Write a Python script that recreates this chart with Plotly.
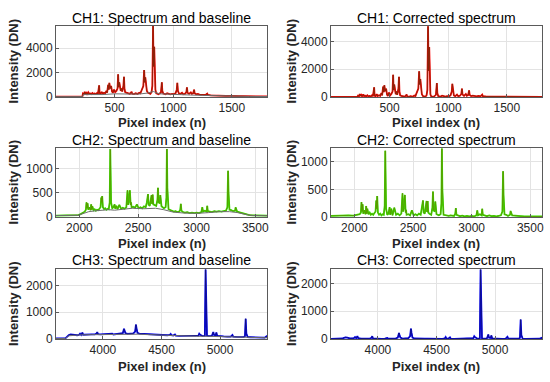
import plotly.graph_objects as go

# ---------------- DATA ----------------
# CH1 raw spectrum (pixel, DN)
ch1_spectrum = [(0,20),(100,20),(200,25),(225,30),(230,300),(240,250),(245,420),(250,260),(258,350),(265,240),
 (275,380),(282,250),(290,300),(300,230),(310,320),(318,250),(330,280),(340,240),(350,330),(358,260),
 (368,950),(372,300),(380,260),(390,420),(398,280),(410,350),(420,300),(430,500),(436,350),(445,1000),
 (450,600),(455,1150),(462,700),(470,900),(478,450),(485,350),(495,600),(505,400),(515,500),(525,700),
 (530,1850),(534,800),(540,1200),(545,600),(552,500),(560,700),(565,450),(575,900),(580,1650),(584,700),
 (590,400),(600,350),(615,300),(630,250),(645,420),(650,260),(665,230),(680,300),(695,250),(710,350),
 (720,300),(735,600),(745,900),(752,2200),(757,1200),(762,1600),(768,800),(775,500),(785,350),(795,300),
 (805,250),(815,400),(822,900),(828,5800),(832,2500),(838,4100),(842,1500),(848,600),(855,300),(865,250),
 (875,230),(885,300),(895,350),(903,1200),(907,500),(915,280),(925,250),(935,220),(948,300),(960,240),
 (975,220),(990,250),(1005,230),(1020,300),(1030,600),(1035,1150),(1040,500),(1048,300),(1060,250),(1075,350),
 (1085,230),(1100,260),(1112,400),(1117,780),(1122,350),(1135,250),(1150,380),(1158,250),(1170,300),(1178,600),
 (1183,300),(1195,220),(1210,250),(1225,200),(1240,180),(1260,200),(1275,170),(1290,280),(1295,170),(1320,140),
 (1350,120),(1380,110),(1400,130),(1420,100),(1450,90),(1480,100),(1500,80),(1520,90),(1560,70),(1600,60),
 (1640,60),(1680,50),(1720,50),(1760,40),(1800,40)]
ch1_baseline = [(0,20),(225,25),(235,200),(300,190),(400,200),(500,260),(600,250),(700,230),(780,320),(830,450),
 (880,260),(950,220),(1050,190),(1150,160),(1250,130),(1350,100),(1450,75),(1550,60),(1650,50),(1800,40)]
ch1_corrected = [(0,0),(100,0),(200,0),(225,5),(230,100),(240,60),(245,220),(250,70),(258,150),(265,50),
 (275,180),(282,60),(290,100),(300,40),(310,120),(318,50),(330,80),(340,40),(350,120),(358,60),
 (368,700),(372,90),(380,50),(390,200),(398,70),(410,130),(420,80),(430,280),(436,120),(445,750),
 (450,350),(455,850),(462,420),(470,600),(478,170),(485,80),(495,320),(505,120),(515,220),(525,400),
 (530,1600),(534,500),(540,900),(545,300),(552,200),(560,400),(565,150),(575,600),(580,1450),(584,400),
 (590,120),(600,80),(615,50),(630,20),(645,180),(650,30),(665,20),(680,60),(695,20),(710,100),
 (720,60),(735,350),(745,600),(752,1850),(757,900),(762,1300),(768,500),(775,200),(785,60),(795,30),
 (805,20),(815,120),(822,500),(828,5100),(832,1900),(838,3600),(842,1000),(848,200),(855,40),(865,30),
 (875,20),(885,80),(895,150),(903,1000),(907,280),(915,60),(925,50),(935,30),(948,100),(960,50),
 (975,30),(990,60),(1005,40),(1020,120),(1030,400),(1035,950),(1040,320),(1048,110),(1060,60),(1075,180),
 (1085,60),(1100,90),(1112,220),(1117,600),(1122,180),(1135,80),(1150,220),(1158,90),(1170,140),(1178,480),
 (1183,150),(1195,70),(1210,100),(1225,60),(1240,50),(1260,80),(1275,50),(1290,170),(1295,60),(1320,40),
 (1350,40),(1380,30),(1400,50),(1420,30),(1450,25),(1480,40),(1500,20),(1520,35),(1560,20),(1600,15),
 (1640,20),(1680,15),(1720,15),(1760,10),(1800,10)]

# CH2
ch2_spectrum = [(1800,30),(1850,30),(1900,35),(1950,35),(1990,40),(2010,60),(2030,90),(2045,110),(2055,150),(2060,300),
 (2065,180),(2070,280),(2075,150),(2085,200),(2095,140),(2100,260),(2105,150),(2110,220),(2120,140),(2130,160),
 (2140,130),(2150,150),(2160,140),(2170,180),(2180,200),(2186,400),(2190,300),(2194,430),(2200,200),(2210,160),
 (2220,180),(2230,150),(2240,170),(2250,160),(2258,300),(2263,1400),(2266,900),(2270,300),(2280,180),(2290,200),
 (2300,260),(2305,170),(2315,230),(2325,160),(2340,250),(2355,170),(2370,190),(2385,170),(2400,200),(2410,550),
 (2415,250),(2420,300),(2430,550),(2437,250),(2440,300),(2445,200),(2460,210),(2475,190),(2490,260),(2505,180),
 (2520,200),(2535,180),(2550,220),(2565,200),(2575,300),(2585,470),(2590,250),(2600,230),(2615,450),(2620,270),
 (2625,460),(2630,260),(2640,250),(2655,230),(2665,350),(2670,600),(2675,300),(2685,280),(2690,450),(2695,250),
 (2700,220),(2710,200),(2720,180),(2735,200),(2742,400),(2746,1400),(2750,600),(2760,160),(2775,140),(2790,120),
 (2805,110),(2820,120),(2835,100),(2850,110),(2860,150),(2865,270),(2870,130),(2885,100),(2900,90),(2920,100),
 (2940,80),(2960,90),(2980,80),(3000,90),(3020,80),(3040,100),(3048,200),(3055,110),(3070,130),(3085,110),
 (3090,230),(3095,120),(3110,110),(3130,100),(3150,120),(3170,110),(3190,120),(3210,110),(3230,120),(3250,130),
 (3262,200),(3268,950),(3272,500),(3280,150),(3295,140),(3310,120),(3328,130),(3332,200),(3345,110),(3360,100),
 (3380,80),(3400,70),(3420,60),(3450,40),(3480,35),(3520,30),(3560,30),(3600,30)]
ch2_baseline = [(1800,30),(1990,35),(2030,70),(2080,110),(2150,130),(2250,150),(2300,140),(2400,160),(2450,180),
 (2550,170),(2650,180),(2720,150),(2800,100),(2900,80),(3000,75),(3100,90),(3200,110),(3280,110),(3350,90),
 (3420,50),(3480,30),(3600,25)]
ch2_corrected = [(1800,20),(1850,25),(1900,20),(1950,30),(1990,25),(2010,30),(2030,40),(2045,50),(2055,80),(2060,270),
 (2065,100),(2070,230),(2075,60),(2085,120),(2095,50),(2100,200),(2105,60),(2110,150),(2120,50),(2130,80),
 (2140,40),(2150,60),(2160,40),(2170,80),(2180,100),(2186,300),(2190,150),(2194,380),(2200,80),(2210,40),
 (2220,60),(2230,30),(2240,50),(2250,40),(2258,200),(2263,1200),(2266,700),(2270,150),(2280,40),(2290,60),
 (2300,180),(2305,40),(2315,150),(2325,30),(2340,170),(2355,40),(2370,60),(2385,30),(2400,60),(2410,430),
 (2415,100),(2420,150),(2430,400),(2437,80),(2440,130),(2445,40),(2460,50),(2475,30),(2490,120),(2505,30),
 (2520,50),(2535,30),(2550,60),(2565,40),(2575,150),(2585,300),(2590,80),(2600,60),(2615,290),(2620,90),
 (2625,290),(2630,80),(2640,60),(2655,40),(2665,170),(2670,460),(2675,120),(2685,100),(2690,280),(2695,60),
 (2700,50),(2710,40),(2720,30),(2735,50),(2742,250),(2746,1240),(2750,500),(2760,40),(2775,30),(2790,20),
 (2805,20),(2820,30),(2835,20),(2850,20),(2860,60),(2865,160),(2870,40),(2885,20),(2900,15),(2920,25),
 (2940,10),(2960,20),(2980,10),(3000,20),(3020,10),(3040,30),(3048,120),(3055,30),(3070,50),(3085,30),
 (3090,150),(3095,40),(3110,25),(3130,15),(3150,30),(3170,15),(3190,20),(3210,10),(3230,20),(3250,30),
 (3262,100),(3268,830),(3272,400),(3280,50),(3295,40),(3310,20),(3328,40),(3332,110),(3345,30),(3360,25),
 (3380,15),(3400,20),(3420,15),(3450,10),(3480,15),(3520,10),(3560,10),(3600,10)]

# CH3
ch3_spectrum = [(3600,20),(3650,20),(3680,25),(3700,110),(3710,150),(3725,170),(3740,160),(3760,130),(3780,140),(3795,150),
 (3805,200),(3815,150),(3825,240),(3832,160),(3850,170),(3880,160),(3900,170),(3930,170),(3945,200),(3952,260),
 (3958,180),(3980,170),(4000,175),(4030,170),(4060,180),(4080,200),(4090,170),(4120,180),(4150,190),(4170,220),
 (4180,380),(4185,300),(4192,220),(4210,190),(4240,200),(4260,210),(4275,280),(4282,540),(4287,400),(4295,230),
 (4310,200),(4340,190),(4370,180),(4400,170),(4430,170),(4460,160),(4490,150),(4520,150),(4550,140),(4570,150),
 (4578,190),(4585,140),(4600,130),(4615,170),(4622,130),(4650,120),(4680,120),(4710,115),(4740,120),(4760,110),
 (4790,110),(4815,130),(4822,200),(4830,160),(4850,110),(4870,120),(4876,2600),(4882,800),(4888,120),(4910,110),
 (4930,120),(4942,260),(4948,150),(4962,140),(4968,240),(4975,120),(5000,100),(5030,95),(5060,90),(5090,90),
 (5105,150),(5112,90),(5140,80),(5170,75),(5200,70),(5212,100),(5218,760),(5224,200),(5235,70),(5260,65),
 (5290,60),(5320,60),(5350,55),(5380,50),(5395,100),(5400,50)]
ch3_baseline = [(3600,15),(3680,20),(3710,120),(3750,140),(3800,150),(3900,160),(4000,165),(4100,170),(4200,180),
 (4300,180),(4400,160),(4500,140),(4600,120),(4700,110),(4800,100),(4900,100),(5000,90),(5100,80),(5200,65),
 (5300,55),(5400,45)]
ch3_corrected = [(3600,5),(3650,5),(3680,5),(3700,20),(3710,40),(3725,60),(3740,50),(3760,20),(3780,25),(3795,30),
 (3805,70),(3815,30),(3825,100),(3832,30),(3850,20),(3880,10),(3900,15),(3930,10),(3945,40),(3952,100),
 (3958,20),(3980,10),(4000,10),(4030,5),(4060,15),(4080,40),(4090,10),(4120,10),(4150,15),(4170,50),
 (4180,220),(4185,130),(4192,50),(4210,15),(4240,20),(4260,30),(4275,100),(4282,370),(4287,220),(4295,50),
 (4310,20),(4340,10),(4370,15),(4400,10),(4430,10),(4460,5),(4490,10),(4520,10),(4550,5),(4570,20),
 (4578,70),(4585,10),(4600,10),(4615,60),(4622,10),(4650,5),(4680,10),(4710,5),(4740,15),(4760,5),
 (4790,10),(4815,30),(4822,100),(4830,60),(4850,10),(4870,20),(4876,2500),(4882,700),(4888,20),(4910,10),
 (4930,20),(4942,160),(4948,50),(4962,40),(4968,130),(4975,20),(5000,10),(5030,10),(5060,5),(5090,10),
 (5105,80),(5112,10),(5140,10),(5170,5),(5200,10),(5212,40),(5218,700),(5224,140),(5235,10),(5260,5),
 (5290,10),(5320,5),(5350,5),(5380,10),(5395,40),(5400,5)]

titles_left = ["CH1: Spectrum and baseline", "CH2: Spectrum and baseline", "CH3: Spectrum and baseline"]
titles_right = ["CH1: Corrected spectrum", "CH2: Corrected spectrum", "CH3: Corrected spectrum"]
x_ranges = [[0, 1800], [1800, 3600], [3600, 5400]]
x_ticks = [[500, 1000, 1500], [2000, 2500, 3000, 3500], [4000, 4500, 5000]]
y_ranges_left = [[0, 5800], [0, 1420], [0, 2620]]
y_ranges_right = [[0, 5120], [0, 1250], [0, 2520]]
y_ticks = [[0, 2000, 4000], [0, 500, 1000], [0, 1000, 2000]]
x_label = "Pixel index (n)"
y_label = "Intensity (DN)"

# ---------------- STYLE ----------------
W, H = 550, 382
bright = ["#ff0000", "#33e600", "#0000ff"]
dark = ["#7a2a0c", "#5f8f00", "#141470"]
base_col = "#6e6e6e"

# pixel boxes of the plot areas (left, right, top, bottom)
col_px = [(56, 267), (331, 542)]
row_px = [(26, 97), (148, 217), (269, 339)]

def xdom(c):
    return [col_px[c][0] / W, col_px[c][1] / W]

def ydom(r):
    return [1 - row_px[r][1] / H, 1 - row_px[r][0] / H]

fig = go.Figure()
FONT = "Liberation Sans, Arial, sans-serif"
annotations = []

datasets = [
    (ch1_spectrum, ch1_baseline, ch1_corrected),
    (ch2_spectrum, ch2_baseline, ch2_corrected),
    (ch3_spectrum, ch3_baseline, ch3_corrected),
]

layout = dict(
    width=W, height=H, margin=dict(l=0, r=0, t=0, b=0, autoexpand=False),
    paper_bgcolor="white", plot_bgcolor="white", showlegend=False,
)

ax_i = 0
for r, (spec, base, corr) in enumerate(datasets):
    for c in range(2):
        ax_i += 1
        xa = "x" if ax_i == 1 else f"x{ax_i}"
        ya = "y" if ax_i == 1 else f"y{ax_i}"
        xkey = "xaxis" if ax_i == 1 else f"xaxis{ax_i}"
        ykey = "yaxis" if ax_i == 1 else f"yaxis{ax_i}"
        pts = spec if c == 0 else corr
        xs = [p[0] for p in pts]
        ys = [p[1] for p in pts]
        fig.add_trace(go.Scatter(x=xs, y=ys, xaxis=xa, yaxis=ya, mode="lines",
                                 line=dict(color=bright[r], width=1.8), hoverinfo="skip"))
        fig.add_trace(go.Scatter(x=xs, y=ys, xaxis=xa, yaxis=ya, mode="lines",
                                 line=dict(color=dark[r], width=0.8), hoverinfo="skip"))
        if c == 0:
            fig.add_trace(go.Scatter(x=[p[0] for p in base], y=[p[1] for p in base],
                                     xaxis=xa, yaxis=ya, mode="lines",
                                     line=dict(color=base_col, width=1), hoverinfo="skip"))
        common = dict(showline=True, mirror=True, linecolor="#5a5a5a", linewidth=1,
                      ticks="inside", ticklen=3, tickcolor="#5a5a5a",
                      showgrid=True, gridcolor="#e3e3e3", gridwidth=1, zeroline=False,
                      tickfont=dict(family=FONT, size=12, color="#262626"), fixedrange=True)
        layout[xkey] = dict(domain=xdom(c), anchor=ya, range=x_ranges[r],
                            tickvals=x_ticks[r], **common)
        layout[ykey] = dict(domain=ydom(r), anchor=xa,
                            range=(y_ranges_left if c == 0 else y_ranges_right)[r],
                            tickvals=y_ticks[r], **common)
        cx = (col_px[c][0] + col_px[c][1]) / 2 / W
        title = (titles_left if c == 0 else titles_right)[r]
        ty = [18, 140, 260][r]
        annotations.append(dict(text=title, x=cx, y=1 - ty / H, xref="paper", yref="paper",
                                showarrow=False, xanchor="center", yanchor="middle",
                                font=dict(family=FONT, size=14, color="black")))
        lx = [123, 243, 366][r]
        annotations.append(dict(text="<b>" + x_label + "</b>", x=cx, y=1 - lx / H,
                                xref="paper", yref="paper", showarrow=False,
                                xanchor="center", yanchor="middle",
                                font=dict(family=FONT, size=13, color="#262626")))
        yx = [13, 291][c]
        yc = (row_px[r][0] + row_px[r][1]) / 2
        annotations.append(dict(text="<b>" + y_label + "</b>", x=yx / W, y=1 - yc / H,
                                xref="paper", yref="paper", showarrow=False, textangle=-90,
                                xanchor="center", yanchor="middle",
                                font=dict(family=FONT, size=13, color="#262626")))

layout["annotations"] = annotations
fig.update_layout(**layout)
fig.write_html("out.html", include_plotlyjs=True, config={"displayModeBar": False},
               post_script="document.body.style.margin='0';document.body.style.overflow='hidden';")
